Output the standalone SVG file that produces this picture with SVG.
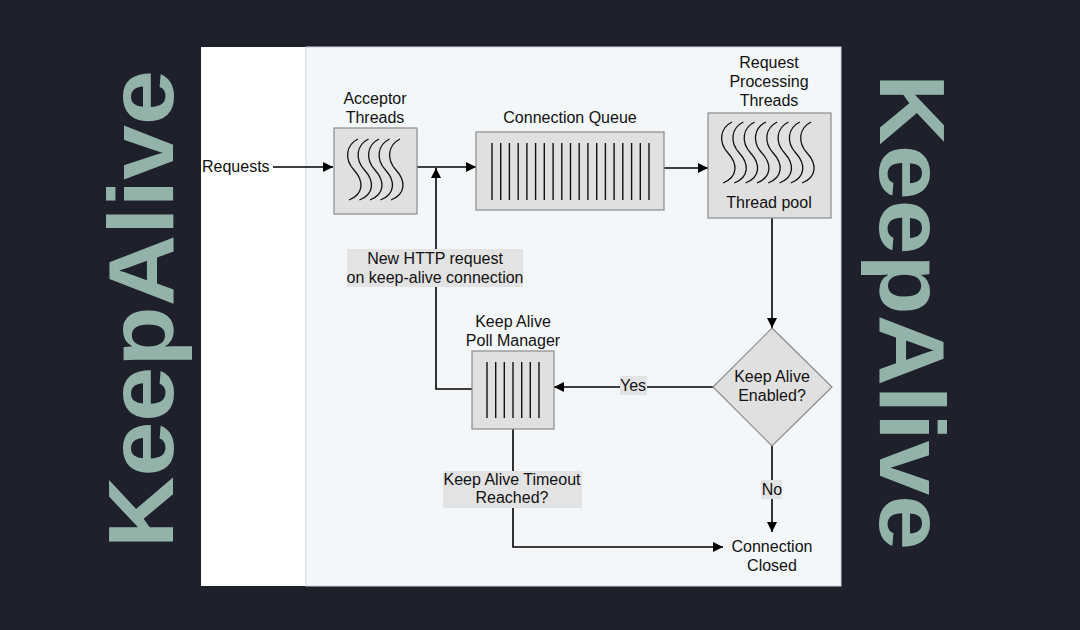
<svg xmlns="http://www.w3.org/2000/svg" width="1080" height="630" viewBox="0 0 1080 630">
<defs>
<style>
text{font-family:"Liberation Sans",Arial,sans-serif;font-size:16px;fill:#111;}
.c{text-anchor:middle;}
.big{font-family:"Liberation Sans",Arial,sans-serif;font-weight:bold;font-size:92px;fill:#93b3aa;}
.box{fill:#e0e0e0;stroke:#8a8a8a;stroke-width:1.2;}
.lbl{fill:#e3e3e3;stroke:none;}
.bar{stroke:#111;stroke-width:1.4;}
.wave{fill:none;stroke:#111;stroke-width:1.3;}
.edge{fill:none;stroke:#000;stroke-width:1.6;}
</style>
<marker id="ah" viewBox="0 0 10 10" refX="10" refY="5" markerWidth="10" markerHeight="10" markerUnits="userSpaceOnUse" orient="auto">
<path d="M0,0 L10,5 L0,10 z" fill="#000"/>
</marker>
<path id="wv" class="wave" d="M12,0 C0,6 -2,20 8,31 C18,42 18,55 3,61"/>
</defs>
<rect width="1080" height="630" fill="#1e202b"/>
<text class="big" transform="translate(173,548) rotate(-90)" textLength="478" lengthAdjust="spacingAndGlyphs">KeepAlive</text>
<text class="big" transform="translate(880,74) rotate(90)" textLength="476" lengthAdjust="spacingAndGlyphs">KeepAlive</text>
<rect x="201" y="47" width="640" height="539" fill="#ffffff"/>
<rect x="306" y="47" width="535" height="539" fill="#f4f7f9" stroke="#cdd5df" stroke-width="1"/>

<g id="connectors">
<line class="edge" x1="273" y1="167" x2="333" y2="167" marker-end="url(#ah)"/>
<line class="edge" x1="417" y1="167" x2="476" y2="167" marker-end="url(#ah)"/>
<line class="edge" x1="664" y1="168" x2="708" y2="168" marker-end="url(#ah)"/>
<polyline class="edge" points="472,389 436,389 436,168" marker-end="url(#ah)"/>
<line class="edge" x1="772" y1="218" x2="772" y2="328" marker-end="url(#ah)"/>
<line class="edge" x1="713" y1="387" x2="554" y2="387" marker-end="url(#ah)"/>
<line class="edge" x1="772" y1="446" x2="772" y2="532" marker-end="url(#ah)"/>
<polyline class="edge" points="513,429 513,547 723,547" marker-end="url(#ah)"/>
<rect class="lbl" x="347" y="249" width="176" height="38"/>
<text class="c" x="435" y="264">New HTTP request</text>
<text class="c" x="435" y="283">on keep-alive connection</text>
<rect class="lbl" x="620" y="376" width="27" height="19"/>
<text class="c" x="633" y="391">Yes</text>
<rect class="lbl" x="761" y="480" width="21" height="19"/>
<text class="c" x="772" y="495">No</text>
<rect class="lbl" x="443" y="471" width="139" height="37"/>
<text class="c" x="512" y="485">Keep Alive Timeout</text>
<text class="c" x="512" y="503">Reached?</text>
</g>

<g id="requests">
<text x="202" y="172">Requests</text>
</g>

<g id="acceptor">
<text class="c" x="375" y="104">Acceptor</text>
<text class="c" x="375" y="123">Threads</text>
<rect class="box" x="334" y="128" width="83" height="86"/>
<use href="#wv" x="346" y="139"/>
<use href="#wv" x="356.5" y="139"/>
<use href="#wv" x="367" y="139"/>
<use href="#wv" x="377.5" y="139"/>
<use href="#wv" x="388" y="139"/>
</g>

<g id="queue">
<text class="c" x="570" y="123">Connection Queue</text>
<rect class="box" x="476" y="132" width="188" height="78"/>
<g class="bar">
<line x1="492" y1="143" x2="492" y2="200"/><line x1="500.7" y1="143" x2="500.7" y2="200"/>
<line x1="509.4" y1="143" x2="509.4" y2="200"/><line x1="518.2" y1="143" x2="518.2" y2="200"/>
<line x1="526.9" y1="143" x2="526.9" y2="200"/><line x1="535.6" y1="143" x2="535.6" y2="200"/>
<line x1="544.3" y1="143" x2="544.3" y2="200"/><line x1="553.1" y1="143" x2="553.1" y2="200"/>
<line x1="561.8" y1="143" x2="561.8" y2="200"/><line x1="570.5" y1="143" x2="570.5" y2="200"/>
<line x1="579.2" y1="143" x2="579.2" y2="200"/><line x1="587.9" y1="143" x2="587.9" y2="200"/>
<line x1="596.7" y1="143" x2="596.7" y2="200"/><line x1="605.4" y1="143" x2="605.4" y2="200"/>
<line x1="614.1" y1="143" x2="614.1" y2="200"/><line x1="622.8" y1="143" x2="622.8" y2="200"/>
<line x1="631.6" y1="143" x2="631.6" y2="200"/><line x1="640.3" y1="143" x2="640.3" y2="200"/>
<line x1="649" y1="143" x2="649" y2="200"/>
</g>
</g>

<g id="threadpool">
<text class="c" x="769" y="68">Request</text>
<text class="c" x="769" y="87">Processing</text>
<text class="c" x="769" y="106">Threads</text>
<rect class="box" x="708" y="113" width="123" height="105"/>
<use href="#wv" x="720" y="122"/>
<use href="#wv" x="731.3" y="122"/>
<use href="#wv" x="742.6" y="122"/>
<use href="#wv" x="753.9" y="122"/>
<use href="#wv" x="765.2" y="122"/>
<use href="#wv" x="776.5" y="122"/>
<use href="#wv" x="787.8" y="122"/>
<use href="#wv" x="799.1" y="122"/>
<text class="c" x="769" y="208">Thread pool</text>
</g>

<g id="pollmanager">
<text class="c" x="513" y="327">Keep Alive</text>
<text class="c" x="513" y="346">Poll Manager</text>
<rect class="box" x="472" y="351" width="82" height="78"/>
<g class="bar">
<line x1="487" y1="362" x2="487" y2="418"/><line x1="495.7" y1="362" x2="495.7" y2="418"/>
<line x1="504.3" y1="362" x2="504.3" y2="418"/><line x1="513" y1="362" x2="513" y2="418"/>
<line x1="521.7" y1="362" x2="521.7" y2="418"/><line x1="530.3" y1="362" x2="530.3" y2="418"/>
<line x1="539" y1="362" x2="539" y2="418"/>
</g>
</g>

<g id="decision">
<polygon class="box" points="772,328 832,387 772,446 713,387"/>
<text class="c" x="772" y="382">Keep Alive</text>
<text class="c" x="772" y="401">Enabled?</text>
</g>

<g id="closed">
<text class="c" x="772" y="552">Connection</text>
<text class="c" x="772" y="571">Closed</text>
</g>
</svg>
